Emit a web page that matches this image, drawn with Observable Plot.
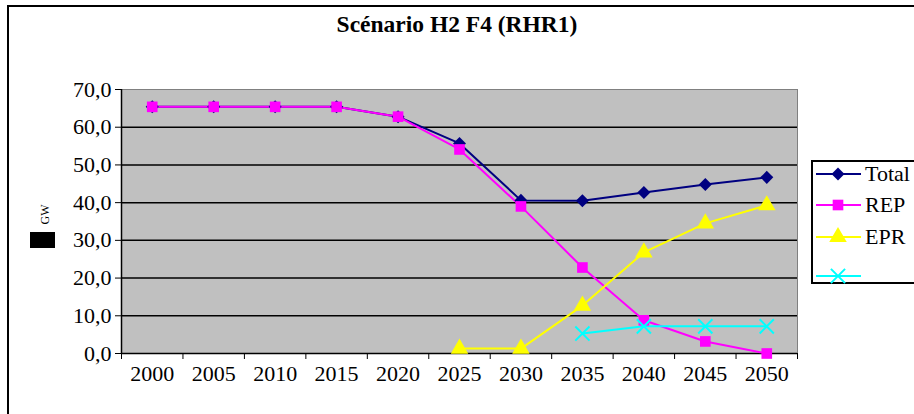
<!DOCTYPE html>
<html>
<head>
<meta charset="utf-8">
<script src="https://cdn.jsdelivr.net/npm/d3@7"></script>
<script src="https://cdn.jsdelivr.net/npm/@observablehq/plot@0.6"></script>
<style>
  html, body { margin: 0; padding: 0; background: #fff; overflow: hidden; }
  #wrap { position: relative; width: 914px; height: 414px; overflow: hidden; font-family: "Liberation Serif", Tinos, "Times New Roman", "DejaVu Serif", serif; }
  #border { position: absolute; left: 7px; top: 5px; width: 930px; height: 430px; border: 2px solid #000; box-sizing: border-box; }
  #title { position: absolute; left: 0; width: 914px; top: 11px; text-align: center; font-weight: bold; font-size: 23.5px; color: #000; }
  #legend { position: absolute; left: 811px; top: 160px; width: 120px; height: 124px; border: 2px solid #000; box-sizing: border-box; background: #fff; }
  #chart { position: absolute; left: 0; top: 0; }
  #blk { position: absolute; left: 30px; top: 232px; width: 25px; height: 16px; background: #000; }
</style>
</head>
<body>
<div id="wrap">
  <div id="chart"></div>
  <div id="border"></div>
  <div id="title">Scénario H2 F4 (RHR1)</div>
  <div id="legend"></div>
  <div id="blk"></div>
</div>
<script>
const FONT = "'Liberation Serif', Tinos, 'Times New Roman', 'DejaVu Serif', serif";
const years = [2000, 2005, 2010, 2015, 2020, 2025, 2030, 2035, 2040, 2045, 2050];
const total = [65.4, 65.4, 65.4, 65.4, 62.8, 55.7, 40.6, 40.5, 42.7, 44.8, 46.7];
const rep   = [65.4, 65.4, 65.4, 65.4, 62.8, 54.1, 39.0, 22.8, 8.8, 3.2, 0.0];
const epr   = [null, null, null, null, null, 1.3, 1.3, 12.7, 26.8, 34.5, 39.3];
const other = [null, null, null, null, null, null, null, 5.3, 7.2, 7.2, 7.2];
const yTicks = [0, 10, 20, 30, 40, 50, 60, 70];
const seriesNames = ["Total", "REP", "EPR", ""];

const series = [
  {name: "Total", values: total, color: "#000080", symbol: "square", rotate: 45, fill: true, r: 5.2},
  {name: "REP", values: rep, color: "#FF00FF", symbol: "square", rotate: 0, fill: true, r: 6.0},
  {name: "EPR", values: epr, color: "#FFFF00", symbol: "triangle", rotate: 0, fill: true, r: 6.5},
  {name: "", values: other, color: "#00FFFF", symbol: "times", rotate: 0, fill: false, r: 6.5}
];

const rows = s => years.map((yr, i) => ({x: yr, y: s.values[i]})).filter(d => d.y != null);

const boundaries = d3.range(1997.5, 2053, 5);
const fmt = d => d.toFixed(1).replace(".", ",");

const marks = [
  Plot.frame({fill: "#c0c0c0", stroke: "#808080"}),
  Plot.ruleY(yTicks.filter(v => v > 0 && v < 70), {stroke: "#000", strokeWidth: 1.5}),
  Plot.ruleX([1997.5], {stroke: "#000", strokeWidth: 1.5}),
  Plot.ruleY([0], {stroke: "#000", strokeWidth: 1.5}),
  Plot.axisY({ticks: yTicks, tickFormat: fmt, tickSize: 6, tickPadding: 4, fontSize: 22, label: null, anchor: "left"}),
  Plot.axisX({ticks: boundaries, tickSize: 6, tickFormat: () => "", label: null, anchor: "bottom"}),
  Plot.axisX({ticks: years, tickSize: 0, tickPadding: 12, tickFormat: d => String(d), fontSize: 22, label: null, anchor: "bottom"})
];
for (const s of series) {
  marks.push(Plot.line(rows(s), {x: "x", y: "y", stroke: s.color, strokeWidth: 2}));
}
for (const s of series) {
  marks.push(Plot.dot(rows(s), {x: "x", y: "y", symbol: s.symbol, r: s.r, rotate: s.rotate,
    fill: s.fill ? s.color : "none", stroke: s.color, strokeWidth: s.fill ? 0 : 2}));
}
marks.push(Plot.text(["GW"], {frameAnchor: "left", dx: -76, dy: 3, rotate: -90, fontSize: 12, fill: "#000", text: d => d}));

const chart = Plot.plot({
  width: 914,
  height: 414,
  marginLeft: 121,
  marginRight: 117,
  marginTop: 89,
  marginBottom: 61,
  style: {fontFamily: FONT, background: "transparent", color: "#000", overflow: "visible"},
  x: {type: "linear", domain: [1997.5, 2052.5]},
  y: {domain: [0, 70]},
  marks
});
document.getElementById("chart").appendChild(chart);

// Legend
const legend = d3.select("#legend").append("svg").attr("width", 120).attr("height", 124)
  .style("position", "absolute").style("left", "-2px").style("top", "-2px");
const sym = {square: d3.symbolSquare, triangle: d3.symbolTriangle, times: d3.symbolTimes};
const ly = [14, 45, 77, 116];
series.forEach((s, i) => {
  const g = legend.append("g").attr("transform", `translate(0,${ly[i]})`);
  g.append("line").attr("x1", 5).attr("x2", 50).attr("stroke", s.color).attr("stroke-width", 2);
  g.append("path").attr("transform", `translate(27,0) rotate(${s.rotate})`)
    .attr("d", d3.symbol(sym[s.symbol], Math.PI * s.r * s.r)())
    .attr("fill", s.fill ? s.color : "none").attr("stroke", s.fill ? "none" : s.color).attr("stroke-width", 2);
  g.append("text").attr("x", 54).attr("y", 7).attr("font-size", 22)
    .attr("font-family", FONT).text(seriesNames[i]);
});
</script>
</body>
</html>
